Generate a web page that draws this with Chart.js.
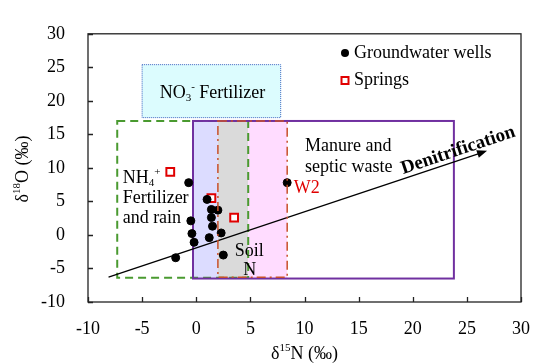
<!DOCTYPE html>
<html>
<head>
<meta charset="utf-8">
<script src="https://cdn.jsdelivr.net/npm/chart.js@4.4.1/dist/chart.umd.min.js"></script>
<style>
  html, body { margin: 0; padding: 0; background: #fff; }
</style>
</head>
<body>
<canvas id="chart" width="546" height="364"></canvas>
<script>
// ---- data ----
const xTicks = [-10, -5, 0, 5, 10, 15, 20, 25, 30];
const yTicks = [-10, -5, 0, 5, 10, 15, 20, 25, 30];

const wellsX = [-0.7, 8.4, 1.0, 1.4, 2.0, 1.4, -0.5, 1.5, -0.4, 2.3, 1.2, -0.2, 2.5, -1.9];
const wellsY = [7.8, 7.8, 5.3, 3.8, 3.7, 2.6, 2.1, 1.3, 0.2, 0.3, -0.4, -1.1, -3.0, -3.4];

const springsX = [-2.4, 1.4, 3.5];
const springsY = [9.4, 5.5, 2.6];

// source fields (x range, y range) in per-mil units
const no3Field = [[-5, 7.8], [17.5, 25.4]];
const nh4Field = [[-7.3, 4.8], [-6.4, 17]];
const manureField = [[-0.3, 23.8], [-6.5, 17]];
const soilField = [[2, 8.4], [-6.3, 17]];
const bandEdges = [-0.3, 2, 4.8, 8.4];      // lavender | grey | pink
const denitArrow = [[-8.1, -6.3], [26.6, 12.4]];

const FONT = "'Liberation Serif', Tinos, 'Times New Roman', serif";

// draws text made of plain / sub / sup parts
function richText(ctx, parts, x, y, size, align, color) {
  const small = Math.round(size * 0.62);
  let w = 0;
  parts.forEach(p => {
    ctx.font = (p.bold ? 'bold ' : '') + (p.sub || p.sup ? small : size) + 'px ' + FONT;
    p.w = ctx.measureText(p.t).width;
    w += p.w;
  });
  let cx = align === 'center' ? x - w / 2 : x;
  ctx.fillStyle = color || '#000';
  ctx.textBaseline = 'middle';
  ctx.textAlign = 'left';
  parts.forEach(p => {
    ctx.font = (p.bold ? 'bold ' : '') + (p.sub || p.sup ? small : size) + 'px ' + FONT;
    let dy = 0;
    if (p.sub) dy = size * 0.3;
    if (p.sup) dy = -size * 0.3;
    ctx.fillText(p.t, cx, y + dy);
    cx += p.w;
  });
}

const figurePlugin = {
  id: 'figure',
  beforeDatasetsDraw(chart) {
    const ctx = chart.ctx;
    const sx = v => chart.scales.x.getPixelForValue(v);
    const sy = v => chart.scales.y.getPixelForValue(v);
    ctx.save();

    // coloured bands inside the manure box
    const bandColors = ['#dcdcff', '#dadada', '#ffdcff'];
    const top = sy(manureField[1][1]), bot = sy(manureField[1][0]);
    for (let i = 0; i < 3; i++) {
      ctx.fillStyle = bandColors[i];
      ctx.fillRect(sx(bandEdges[i]), top, sx(bandEdges[i + 1]) - sx(bandEdges[i]), bot - top);
    }

    // NO3- fertilizer box
    let x0 = sx(no3Field[0][0]), x1 = sx(no3Field[0][1]);
    let y0 = sy(no3Field[1][1]), y1 = sy(no3Field[1][0]);
    ctx.fillStyle = '#dcfcfe';
    ctx.fillRect(x0, y0, x1 - x0, y1 - y0);
    ctx.strokeStyle = '#3a64c0';
    ctx.lineWidth = 1;
    ctx.setLineDash([1, 1]);
    ctx.strokeRect(x0, y0, x1 - x0, y1 - y0);

    // NH4+ fertilizer and rain (green dashed)
    x0 = sx(nh4Field[0][0]); x1 = sx(nh4Field[0][1]);
    y0 = sy(nh4Field[1][1]); y1 = sy(nh4Field[1][0]);
    ctx.strokeStyle = '#4a9a30';
    ctx.lineWidth = 2;
    ctx.setLineDash([8, 5]);
    ctx.strokeRect(x0, y0, x1 - x0, y1 - y0);

    // manure and septic waste (purple)
    x0 = sx(manureField[0][0]); x1 = sx(manureField[0][1]);
    y0 = sy(manureField[1][1]); y1 = sy(manureField[1][0]);
    ctx.strokeStyle = '#7030a0';
    ctx.lineWidth = 2;
    ctx.setLineDash([]);
    ctx.strokeRect(x0, y0, x1 - x0, y1 - y0);

    // denitrification arrow
    const ax0 = sx(denitArrow[0][0]), ay0 = sy(denitArrow[0][1]);
    const ax1 = sx(denitArrow[1][0]), ay1 = sy(denitArrow[1][1]);
    ctx.strokeStyle = '#000';
    ctx.lineWidth = 1.3;
    ctx.beginPath();
    ctx.moveTo(ax0, ay0);
    ctx.lineTo(ax1, ay1);
    ctx.stroke();
    const ang = Math.atan2(ay1 - ay0, ax1 - ax0);
    ctx.fillStyle = '#000';
    ctx.translate(ax1, ay1);
    ctx.rotate(ang);
    ctx.beginPath();
    ctx.moveTo(3, 0);
    ctx.lineTo(-7, -4);
    ctx.lineTo(-7, 4);
    ctx.closePath();
    ctx.fill();
    ctx.restore();
  },
  afterDatasetsDraw(chart) {
    const ctx = chart.ctx;
    const sx = v => chart.scales.x.getPixelForValue(v);
    const sy = v => chart.scales.y.getPixelForValue(v);
    const area = chart.chartArea;
    ctx.save();

    // soil N box (dash-dot)
    const x0 = sx(soilField[0][0]), x1 = sx(soilField[0][1]);
    const y0 = sy(soilField[1][1]), y1 = sy(soilField[1][0]);
    ctx.strokeStyle = '#c8502a';
    ctx.lineWidth = 1.5;
    ctx.setLineDash([9, 4, 2, 4]);
    ctx.strokeRect(x0, y0, x1 - x0, y1 - y0);
    ctx.setLineDash([]);

    // labels
    richText(ctx, [{t: 'NO'}, {t: '3', sub: true}, {t: '-', sup: true}, {t: ' Fertilizer'}],
      sx(1.5), sy(21.2), 18, 'center');
    richText(ctx, [{t: 'NH'}, {t: '4', sub: true}, {t: '+', sup: true}], sx(-6.8), sy(8.5), 18, 'left');
    richText(ctx, [{t: 'Fertilizer'}], sx(-6.8), sy(5.45), 18, 'left');
    richText(ctx, [{t: 'and rain'}], sx(-6.8), sy(2.54), 18, 'left');
    richText(ctx, [{t: 'Soil'}], sx(4.9), sy(-2.4), 18, 'center');
    richText(ctx, [{t: 'N'}], sx(4.95), sy(-5.2), 18, 'center');
    richText(ctx, [{t: 'Manure and'}], sx(10.05), sy(13.2), 18, 'left');
    richText(ctx, [{t: 'septic waste'}], sx(10.05), sy(10.1), 18, 'left');
    richText(ctx, [{t: 'W2'}], sx(9.0), sy(7.0), 18, 'left', '#e00000');

    // rotated "Denitrification"
    const ax0 = sx(denitArrow[0][0]), ay0 = sy(denitArrow[0][1]);
    const ax1 = sx(denitArrow[1][0]), ay1 = sy(denitArrow[1][1]);
    const ang = Math.atan2(ay1 - ay0, ax1 - ax0);
    ctx.save();
    ctx.translate(sx(24.2), sy(12.6));
    ctx.rotate(ang);
    richText(ctx, [{t: 'Denitrification', bold: true}], 0, 0, 19, 'center');
    ctx.restore();

    // legend
    const lx = 345, ly1 = 53, ly2 = 80.5;
    ctx.fillStyle = '#000';
    ctx.beginPath();
    ctx.arc(lx, ly1, 4, 0, Math.PI * 2);
    ctx.fill();
    ctx.strokeStyle = '#e00000';
    ctx.lineWidth = 2;
    ctx.fillStyle = '#fff';
    ctx.fillRect(lx - 3.5, ly2 - 3.5, 7, 7);
    ctx.strokeRect(lx - 3.5, ly2 - 3.5, 7, 7);
    richText(ctx, [{t: chart.data.datasets[0].label}], lx + 9, ly1, 18, 'left');
    richText(ctx, [{t: chart.data.datasets[1].label}], lx + 9, ly2, 18, 'left');

    // frame and inward ticks
    ctx.strokeStyle = '#222';
    ctx.lineWidth = 1.3;
    ctx.strokeRect(area.left, area.top, area.right - area.left, area.bottom - area.top);
    ctx.beginPath();
    xTicks.forEach(v => {
      const p = Math.round(sx(v)) + 0.5;
      ctx.moveTo(p, area.bottom);
      ctx.lineTo(p, area.bottom - 5);
    });
    yTicks.forEach(v => {
      const p = Math.round(sy(v)) + 0.5;
      ctx.moveTo(area.left, p);
      ctx.lineTo(area.left + 5, p);
    });
    ctx.stroke();

    // axis titles
    richText(ctx, [{t: 'δ'}, {t: '15', sup: true}, {t: 'N (‰)'}], (area.left + area.right) / 2, 354, 18, 'center');
    ctx.save();
    ctx.translate(23, (area.top + area.bottom) / 2 + 1);
    ctx.rotate(-Math.PI / 2);
    richText(ctx, [{t: 'δ'}, {t: '18', sup: true}, {t: 'O (‰)'}], 0, 0, 18, 'center');
    ctx.restore();

    ctx.restore();
  }
};

const tickFont = { family: FONT, size: 18 };

new Chart(document.getElementById('chart'), {
  type: 'scatter',
  data: {
    datasets: [
      {
        label: 'Groundwater wells',
        data: wellsX.map((x, i) => ({ x: x, y: wellsY[i] })),
        pointStyle: 'circle',
        pointRadius: 4,
        backgroundColor: '#000',
        borderColor: '#000',
        borderWidth: 1
      },
      {
        label: 'Springs',
        data: springsX.map((x, i) => ({ x: x, y: springsY[i] })),
        pointStyle: 'rect',
        pointRadius: 5.5,
        backgroundColor: '#fff',
        borderColor: '#e00000',
        borderWidth: 2
      }
    ]
  },
  options: {
    responsive: false,
    devicePixelRatio: 1,
    animation: false,
    layout: { padding: { left: 0, top: 19, right: 11, bottom: 0 } },
    plugins: {
      legend: { display: false },
      tooltip: { enabled: false }
    },
    scales: {
      x: {
        type: 'linear',
        min: -10,
        max: 30,
        afterBuildTicks: s => { s.ticks = xTicks.map(v => ({ value: v })); },
        afterFit: s => { s.height = 62; },
        ticks: { font: tickFont, color: '#000', padding: 16, maxRotation: 0 },
        grid: { display: false, drawTicks: false },
        border: { display: false }
      },
      y: {
        type: 'linear',
        min: -10,
        max: 30,
        afterBuildTicks: s => { s.ticks = yTicks.map(v => ({ value: v })); },
        afterFit: s => { s.width = 88; },
        ticks: { font: tickFont, color: '#000', padding: 23 },
        grid: { display: false, drawTicks: false },
        border: { display: false }
      }
    }
  },
  plugins: [figurePlugin]
});
</script>
</body>
</html>
